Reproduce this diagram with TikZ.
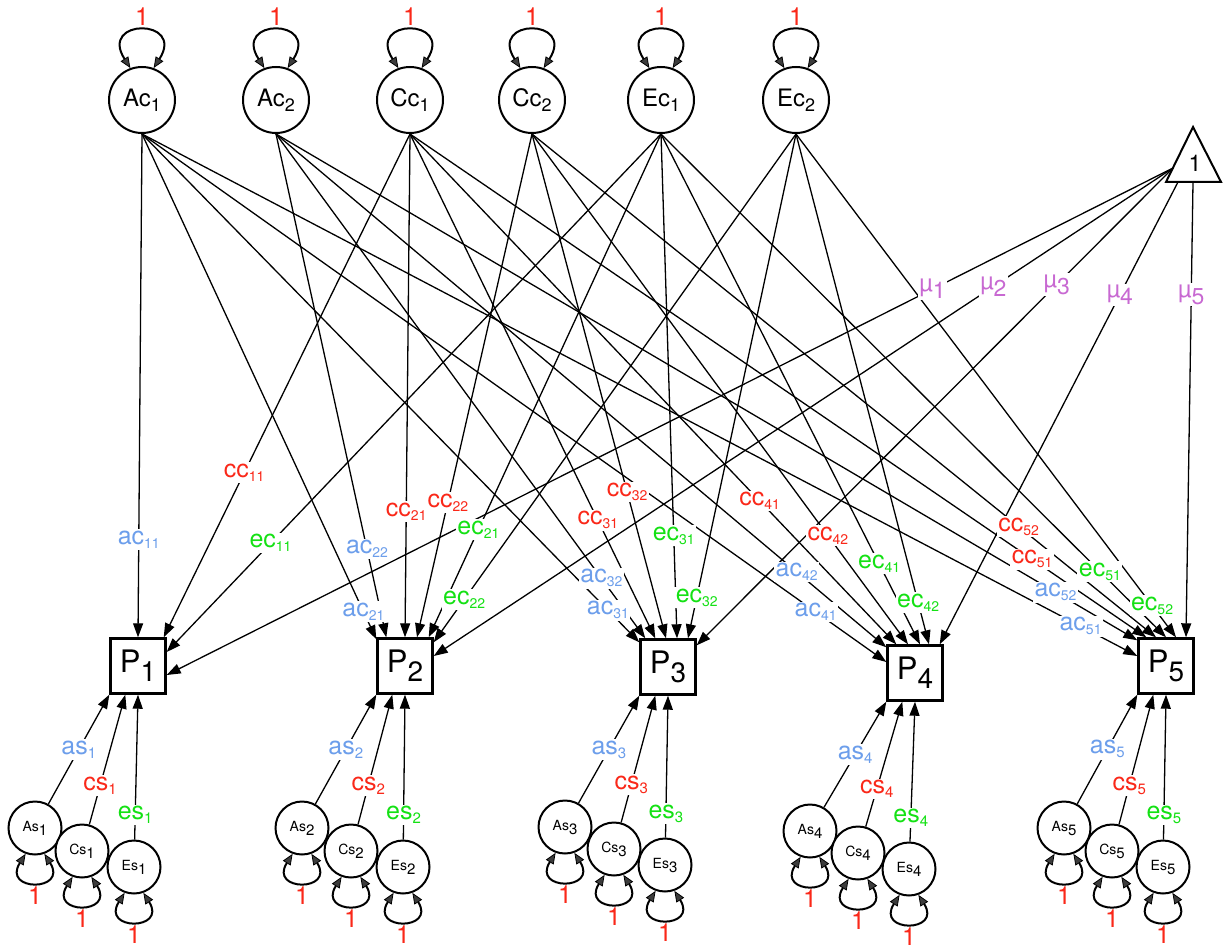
\documentclass[tikz,border=0pt]{standalone}
\usepackage{fontspec}
\setmainfont{TeX Gyre Heros}
\usetikzlibrary{arrows.meta,calc}
\definecolor{cb}{RGB}{108,158,235}
\definecolor{cr}{RGB}{250,40,25}
\definecolor{cg}{RGB}{20,225,20}
\definecolor{cm}{RGB}{200,105,210}
\definecolor{tipg}{RGB}{60,60,60}
\newcommand{\elab}[2]{{\fontsize{25}{25}\selectfont #1}\raisebox{-4pt}{\fontsize{14}{14}\selectfont #2}}
\newcommand{\mulab}[1]{{\fontsize{24}{24}\selectfont µ}\raisebox{-7pt}{\fontsize{23}{23}\selectfont #1}}
\newcommand{\clab}[2]{{\fontsize{24}{24}\selectfont #1}\raisebox{-5pt}{\fontsize{18}{18}\selectfont #2}}
\newcommand{\slab}[2]{{\fontsize{14}{14}\selectfont #1}\raisebox{-4pt}{\fontsize{15}{15}\selectfont #2}}
\newcommand{\plab}[1]{{\fontsize{31}{31}\selectfont P}\raisebox{-9pt}{\fontsize{28}{28}\selectfont #1}}
\newcommand{\blab}[2]{{\fontsize{25}{25}\selectfont #1}\raisebox{-4pt}{\fontsize{15}{15}\selectfont #2}}
\tikzset{
  lat/.style={circle,draw,fill=white,line width=2pt,minimum size=66pt,inner sep=0pt},
  slat/.style={circle,draw,fill=white,line width=2pt,minimum size=53pt,inner sep=0pt},
  obs/.style={rectangle,draw,fill=white,line width=2.4pt,minimum size=55pt,inner sep=0pt},
  arr/.style={line width=1.3pt,-{Triangle[length=14pt,width=10pt]}},
  selfloop/.style={line width=2pt,{Triangle[length=11pt,width=9pt,fill=tipg,line width=0.8pt]}-{Triangle[length=11pt,width=9pt,fill=tipg,line width=0.8pt]}},
  lbl/.style={fill=white,inner sep=1.5pt},
  onelab/.style={text=cr,font=\fontsize{25}{25}\selectfont},
}
\begin{document}
\begin{tikzpicture}[x=1pt,y=-1pt]
\useasboundingbox (0,0) rectangle (1225,952);
% top latent factors
\foreach \n/\x/\t/\s in {Ac1/142/Ac/1, Ac2/276/Ac/2, Cc1/410/Cc/1, Cc2/532/Cc/2, Ec1/661/Ec/1, Ec2/796/Ec/2}{
  \node[lat] (\n) at (\x,100) {\clab{\t}{\s}};
  \draw[selfloop] (\n.110) .. controls +(-32,-50) and +(32,-50) .. (\n.70);
  \node[onelab] at (\x,17) {1};
}
% triangle (constant)
\draw[line width=2pt,line join=miter] (1193,127) -- (1221,182) -- (1166,182) -- cycle;
\node[font=\fontsize{23}{23}\selectfont] (T) at (1195,163) {1};
\coordinate (TL) at (1173,168);
\coordinate (TB) at (1178,182);
\coordinate (TC) at (1193,182);
% observed
\foreach \n/\x/\y/\s in {P1/138/666/1, P2/405/666/2, P3/668/667/3, P4/915/673/4, P5/1166/666/5}
  \node[obs] (\n) at (\x,\y) {\plab{\s}};
% target points
\coordinate (P1a1) at (P1.north);
\coordinate (P1c1) at ($(P1.north east)+(-3,0)$);
\coordinate (P1e1) at ($(P1.east)+(0,-14)$);
\coordinate (P1m) at ($(P1.east)+(0,9)$);
\coordinate (P2a1) at ($(P2.north west)+(0,2)$);
\coordinate (P2a2) at ($(P2.north west)+(10,0)$);
\coordinate (P2c1) at (P2.north);
\coordinate (P2c2) at ($(P2.north)+(12,0)$);
\coordinate (P2e1) at ($(P2.north east)+(-5,0)$);
\coordinate (P2e2) at ($(P2.north east)+(0,5)$);
\coordinate (P2m) at ($(P2.east)+(0,-10)$);
\coordinate (P3a1) at ($(P3.north west)+(0,4)$);
\coordinate (P3a2) at ($(P3.north west)+(6,0)$);
\coordinate (P3c1) at ($(P3.north west)+(16,0)$);
\coordinate (P3c2) at ($(P3.north)+(-2,0)$);
\coordinate (P3e1) at ($(P3.north)+(9,0)$);
\coordinate (P3e2) at ($(P3.north)+(20,0)$);
\coordinate (P3m) at ($(P3.north east)+(0,7)$);
\coordinate (P4a1) at ($(P4.west)+(0,-11)$);
\coordinate (P4a2) at ($(P4.north west)+(0,3)$);
\coordinate (P4c1) at ($(P4.north west)+(10,0)$);
\coordinate (P4c2) at ($(P4.north)+(-7,0)$);
\coordinate (P4e1) at ($(P4.north)+(5,0)$);
\coordinate (P4e2) at ($(P4.north)+(14,0)$);
\coordinate (P4m) at ($(P4.north east)+(-4,0)$);
\coordinate (P5a1) at ($(P5.west)+(0,-10)$);
\coordinate (P5a2) at ($(P5.north west)+(0,3)$);
\coordinate (P5c1) at ($(P5.north west)+(9,0)$);
\coordinate (P5c2) at ($(P5.north)+(-10,0)$);
\coordinate (P5e1) at (P5.north);
\coordinate (P5e2) at ($(P5.north)+(10,0)$);
\coordinate (P5m) at ($(P5.north)+(20,0)$);
% connectors
\def\toplist{Ac1/P1a1/.806/ac/11/cb, Cc1/P1c1/.673/cc/11/cr, Ec1/P1e1/.79/ec/11/cg,
 Ac1/P2a1/.945/ac/21/cb, Ac2/P2a2/.825/ac/22/cb, Cc1/P2c1/.75/cc/21/cr, Cc2/P2c2/.732/cc/22/cr, Ec1/P2e1/.786/ec/21/cg, Ec2/P2e2/.916/ec/22/cg,
 Ac1/P3a1/.937/ac/31/cb, Ac2/P3a2/.881/ac/32/cb, Cc1/P3c1/.766/cc/31/cr, Cc2/P3c2/.71/cc/32/cr, Ec1/P3e1/.796/ec/31/cg, Ec2/P3e2/.919/ec/32/cg,
 Ac1/P4a1/.905/ac/41/cb, Ac2/P4a2/.853/ac/42/cb, Cc1/P4c1/.719/cc/41/cr, Cc2/P4c2/.787/cc/42/cr, Ec1/P4e1/.842/ec/41/cg, Ec2/P4e2/.918/ec/42/cg,
 Ac1/P5a1/.943/ac/51/cb, Ac2/P5a2/.905/ac/52/cb, Cc1/P5c1/.845/cc/51/cr, Cc2/P5c2/.78/cc/52/cr, Ec1/P5e1/.869/ec/51/cg, Ec2/P5e2/.937/ec/52/cg}
\foreach \s/\t/\p/\a/\b/\c in \toplist
  \draw[arr] (\s.south) -- (\t);
\foreach \s/\t/\p/\b in {TL/P1m/.239/1, TL/P2m/.243/2, TL/P3m/.244/3, TB/P4m/.244/4, TC/P5m/.248/5}
  \draw[arr] (\s) -- (\t);
% labels on top of all lines
\foreach \s/\t/\p/\a/\b/\c in \toplist
  \path (\s.south) -- (\t) node[lbl,text=\c,pos=\p] {\elab{\a}{\b}};
\foreach \s/\t/\p/\b in {TL/P1m/.239/1, TL/P2m/.243/2, TL/P3m/.244/3, TB/P4m/.244/4, TC/P5m/.248/5}
  \path (\s) -- (\t) node[lbl,text=cm,pos=\p] {\mulab{\b}};
% specific factors
\foreach \i/\ax/\ay/\cx/\cy/\ex/\ey in {1/35/828/82/851/134/867, 2/302/828/351/851/403/867, 3/565/827/614/849/665/865, 4/810/831/858/853/909/869, 5/1064/828/1112/851/1163/867}{
  \node[slat] (As\i) at (\ax,\ay) {\slab{As}{\i}};
  \node[slat] (Cs\i) at (\cx,\cy) {\slab{Cs}{\i}};
  \node[slat] (Es\i) at (\ex,\ey) {\slab{Es}{\i}};
  \foreach \k in {As,Cs,Es}{
    \draw[selfloop] (\k\i.250) .. controls +(-24,38) and +(24,38) .. (\k\i.290);
    \node[onelab] at ($(\k\i.south)+(0,40)$) {1};
  }
  \draw[arr] (As\i) -- (P\i.south west) node[lbl,pos=.5,text=cb] {\blab{as}{\i}};
  \draw[arr] (Cs\i) -- ($(P\i.south west)+(16,0)$) node[lbl,pos=.3,text=cr] {\blab{cs}{\i}};
  \draw[arr] (Es\i) -- (P\i.south) node[lbl,pos=.17,text=cg] {\blab{es}{\i}};
}
\end{tikzpicture}
\end{document}
